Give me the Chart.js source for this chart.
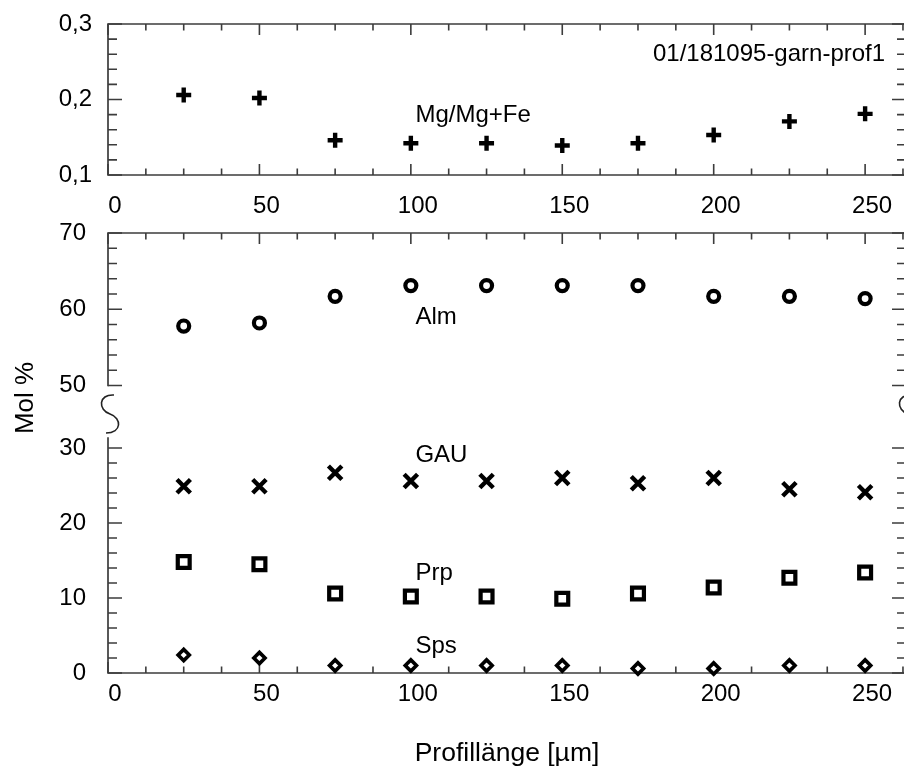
<!DOCTYPE html>
<html>
<head>
<meta charset="utf-8">
<title>Granat-Profil 01/181095</title>
<script src="https://cdn.jsdelivr.net/npm/chart.js@4.4.1/dist/chart.umd.min.js"></script>
<style>
  html, body { margin: 0; padding: 0; background: #fff; overflow: hidden; }
  #fig { position: relative; width: 904px; height: 772px; overflow: hidden; background: #fff; }
  #fig canvas { position: absolute; left: 0; }
</style>
</head>
<body>
<div id="fig">
  <canvas id="ratio" width="920" height="230" style="top:0px"></canvas>
  <canvas id="upper" width="920" height="205" style="top:195px"></canvas>
  <canvas id="lower" width="920" height="432" style="top:340px"></canvas>
</div>
<script>
// Measurement positions along the garnet profile (µm)
const positions   = [25, 50, 75, 100, 125, 150, 175, 200, 225, 250];
// Mg/(Mg+Fe)
const mgNumber    = [0.206, 0.202, 0.146, 0.142, 0.142, 0.139, 0.142, 0.153, 0.171, 0.181];
// End-member fractions, mol %
const almandine   = [57.8, 58.2, 61.7, 63.1, 63.1, 63.1, 63.1, 61.7, 61.7, 61.4];
const gau         = [24.9, 24.9, 26.7, 25.6, 25.6, 26.0, 25.3, 26.0, 24.5, 24.1];
const pyrope      = [14.8, 14.5, 10.6, 10.2, 10.2, 9.9, 10.6, 11.4, 12.7, 13.4];
const spessartine = [2.4, 2.0, 1.0, 1.0, 1.0, 1.0, 0.6, 0.6, 1.0, 1.0];

const sampleName  = '01/181095-garn-prof1';
const xTitle      = 'Profillänge [µm]';
const yTitle      = 'Mol %';

const FONT = "'Liberation Sans', Arial, Helvetica, sans-serif";
Chart.defaults.font.family = FONT;
Chart.defaults.color = '#000';

const X_MAX = 263.5;
const AXIS_COLOR = '#3c3c3c';
const TICK_FONT = 24;
const LABEL_FONT = 24;

// Inward tick marks (major + minor) and the frame around each plot area
function tickMarks(scale, minor, major) {
  const out = [];
  const ratio = Math.round(major / minor);
  const k0 = Math.ceil(scale.min / minor - 1e-6);
  const k1 = Math.floor(scale.max / minor + 1e-6);
  for (let k = k0; k <= k1; k++) {
    out.push({ px: scale.getPixelForValue(k * minor), major: k % ratio === 0 });
  }
  return out;
}

function sBreak(ctx, ax, y0) {
  ctx.moveTo(ax + 6, y0);
  ctx.bezierCurveTo(ax - 10, y0 - 1, ax - 10, y0 + 15, ax + 2, y0 + 19);
  ctx.bezierCurveTo(ax + 14, y0 + 23, ax + 14, y0 + 38, ax - 2, y0 + 38);
}

const framePlugin = {
  id: 'frame',
  beforeDatasetsDraw(chart, args, o) {
    const { ctx, chartArea: a } = chart;
    const xs = chart.scales.x, ys = chart.scales.y;
    const has = s => o.sides.indexOf(s) >= 0;
    ctx.save();
    ctx.strokeStyle = AXIS_COLOR;
    ctx.lineWidth = 1.7;
    ctx.lineCap = 'square';
    ctx.beginPath();
    if (has('top'))    { ctx.moveTo(a.left, a.top);    ctx.lineTo(a.right, a.top); }
    if (has('bottom')) { ctx.moveTo(a.left, a.bottom); ctx.lineTo(a.right, a.bottom); }
    ctx.moveTo(a.left, a.top);  ctx.lineTo(a.left, a.bottom);
    ctx.moveTo(a.right, a.top); ctx.lineTo(a.right, a.bottom);
    ctx.stroke();

    ctx.lineCap = 'butt';
    ctx.lineWidth = 1.6;
    ctx.beginPath();
    tickMarks(xs, o.xMinor, o.xMajor).forEach(t => {
      const len = t.major ? 11 : 6.5;
      if (has('top'))    { ctx.moveTo(t.px, a.top);    ctx.lineTo(t.px, a.top + len); }
      if (has('bottom')) { ctx.moveTo(t.px, a.bottom); ctx.lineTo(t.px, a.bottom - len); }
    });
    tickMarks(ys, o.yMinor, o.yMajor).forEach(t => {
      const len = t.major ? 14 : 9;
      ctx.moveTo(a.left, t.px);  ctx.lineTo(a.left + len, t.px);
      ctx.moveTo(a.right, t.px); ctx.lineTo(a.right - len, t.px);
    });
    ctx.stroke();

    if (o.axisBreak) {
      ctx.lineWidth = 1.6;
      ctx.strokeStyle = '#222';
      ctx.beginPath();
      sBreak(ctx, a.left, a.top - 43);
      sBreak(ctx, a.right, a.top - 43);
      ctx.stroke();
    }
    ctx.restore();
  }
};

// Series names and captions placed in data coordinates
const labelPlugin = {
  id: 'seriesLabels',
  afterDatasetsDraw(chart, args, o) {
    const { ctx } = chart;
    const xs = chart.scales.x, ys = chart.scales.y;
    ctx.save();
    ctx.fillStyle = '#000';
    ctx.textBaseline = 'alphabetic';
    (o.items || []).forEach(it => {
      ctx.font = (it.size || LABEL_FONT) + 'px ' + FONT;
      ctx.textAlign = it.align || 'left';
      ctx.fillText(it.text, xs.getPixelForValue(it.x), ys.getPixelForValue(it.y));
    });
    if (o.caption) {
      const c = o.caption;
      ctx.font = c.size + 'px ' + FONT;
      ctx.textAlign = 'center';
      ctx.translate(c.x, chart.chartArea.top + c.dy);
      ctx.rotate(-Math.PI / 2);
      ctx.fillText(c.text, 0, 0);
    }
    ctx.restore();
  }
};

function series(values, style, radius, width) {
  return {
    data: positions.map((p, i) => ({ x: p, y: values[i] })),
    showLine: false,
    pointStyle: style,
    pointRadius: radius,
    pointHoverRadius: radius,
    pointBorderWidth: width,
    pointBorderColor: '#000',
    pointBackgroundColor: '#fff',
    borderColor: '#000',
    backgroundColor: '#fff',
    clip: false
  };
}

// Scale padding is left to the layout padding, so the plot areas sit exactly where wanted
function noScalePadding(s) {
  s.paddingTop = 0; s.paddingBottom = 0; s.paddingLeft = 0; s.paddingRight = 0;
}

function xAxis(height, extra) {
  return Object.assign({
    type: 'linear',
    min: 0,
    max: X_MAX,
    grid: { display: false, drawTicks: false },
    border: { display: false },
    afterFit: s => { if (height !== null) s.height = height; noScalePadding(s); },
    ticks: {
      stepSize: 50, includeBounds: false, autoSkip: false, maxRotation: 0,
      labelOffset: 7, padding: 16.5, font: { size: TICK_FONT }, color: '#000'
    }
  }, extra);
}

function yAxis(min, max, step, pad, fmt) {
  return {
    type: 'linear',
    min: min,
    max: max,
    grid: { display: false, drawTicks: false },
    border: { display: false },
    afterFit: s => { s.width = 108; noScalePadding(s); },
    ticks: {
      stepSize: step, includeBounds: false, autoSkip: false,
      padding: pad, font: { size: TICK_FONT }, color: '#000',
      callback: fmt || (v => String(v))
    }
  };
}

function baseOptions() {
  return {
    responsive: false,
    devicePixelRatio: 1,
    animation: false,
    events: [],
    plugins: { legend: { display: false }, tooltip: { enabled: false } }
  };
}

// Mg/(Mg+Fe) panel
const optRatio = baseOptions();
optRatio.layout = { padding: { top: 24, right: 14, bottom: 0, left: 0 } };
optRatio.scales = {
  x: xAxis(55),
  y: yAxis(0.1, 0.3, 0.1, 16, v => v.toFixed(1).replace('.', ','))
};
optRatio.plugins.frame = { sides: ['top', 'bottom'], xMinor: 12.5, xMajor: 50, yMinor: 0.02, yMajor: 0.1 };
optRatio.plugins.seriesLabels = {
  items: [
    { text: 'Mg/Mg+Fe', x: 101.5, y: 0.170 },
    { text: sampleName, x: 256.6, y: 0.251, align: 'right' }
  ]
};
new Chart(document.getElementById('ratio'), {
  type: 'scatter',
  data: { datasets: [series(mgNumber, 'cross', 7.5, 4.4)] },
  options: optRatio,
  plugins: [framePlugin, labelPlugin]
});

// Mol % panel, upper segment (50–70)
const optUpper = baseOptions();
optUpper.layout = { padding: { top: 38, right: 14, bottom: 14.5, left: 0 } };
optUpper.scales = {
  x: xAxis(null, { display: false }),
  y: yAxis(50, 70, 10, 22)
};
optUpper.plugins.frame = { sides: ['top'], xMinor: 12.5, xMajor: 50, yMinor: 2, yMajor: 10 };
optUpper.plugins.seriesLabels = { items: [{ text: 'Alm', x: 101.5, y: 58.1 }] };
new Chart(document.getElementById('upper'), {
  type: 'scatter',
  data: { datasets: [series(almandine, 'circle', 5.5, 4.2)] },
  options: optUpper,
  plugins: [framePlugin, labelPlugin]
});

// Mol % panel, lower segment (0–30)
const optLower = baseOptions();
optLower.layout = { padding: { top: 98, right: 14, bottom: 0, left: 0 } };
const xLower = xAxis(99, {
  title: { display: true, text: xTitle, font: { size: 26.5 }, color: '#000', padding: { top: 0, bottom: 2 } }
});
xLower.ticks.padding = 6.5;
optLower.scales = {
  x: xLower,
  y: yAxis(0, 31.33, 10, 22)
};
optLower.plugins.frame = { sides: ['bottom'], xMinor: 12.5, xMajor: 50, yMinor: 2, yMajor: 10, axisBreak: true };
optLower.plugins.seriesLabels = {
  items: [
    { text: 'GAU', x: 101.5, y: 28.1 },
    { text: 'Prp', x: 101.5, y: 12.45 },
    { text: 'Sps', x: 101.5, y: 2.66 }
  ],
  caption: { text: yTitle, size: 26, x: 33, dy: -40 }
};
new Chart(document.getElementById('lower'), {
  type: 'scatter',
  data: {
    datasets: [
      series(gau, 'crossRot', 9.5, 4.4),
      series(pyrope, 'rect', 8.4, 4.2),
      series(spessartine, 'rectRot', 5.6, 3.6)
    ]
  },
  options: optLower,
  plugins: [framePlugin, labelPlugin]
});
</script>
</body>
</html>
